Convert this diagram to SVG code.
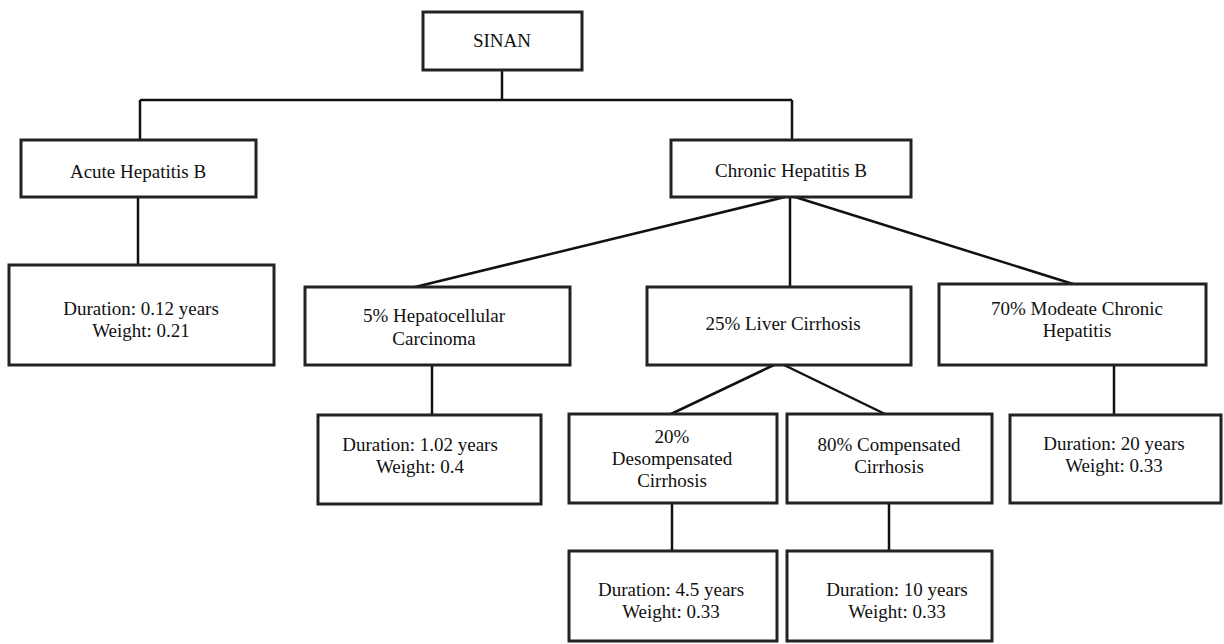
<svg xmlns="http://www.w3.org/2000/svg" width="1224" height="644" viewBox="0 0 1224 644">
<style>
.box{fill:#fff;stroke:#222;stroke-width:3}
.ln{stroke:#111;stroke-width:2.5;fill:none}
text{font-family:"Liberation Serif","DejaVu Serif",serif;font-size:19px;fill:#111;text-anchor:middle}
</style>
<rect width="1224" height="644" fill="#fff"/>
<g id="connectors">
<path class="ln" d="M502 70V100M140 100H792M140 100V140M792 100V140"/>
<path class="ln" d="M138 197V265"/>
<path class="ln" d="M785 197L415 287M790 197V287M795 197L1073 284"/>
<path class="ln" d="M432 365V415"/>
<path class="ln" d="M774 365L671 414M784 365L885 414"/>
<path class="ln" d="M1114 365V415"/>
<path class="ln" d="M672 503V551M889 503V551"/>
</g>
<g id="sinan"><rect class="box" x="423" y="12" width="159" height="58"/><text x="502" y="47">SINAN</text></g>
<g id="acute"><rect class="box" x="21" y="140" width="235" height="57"/><text x="138" y="178">Acute Hepatitis B</text></g>
<g id="chronic"><rect class="box" x="671" y="140" width="240" height="57"/><text x="791" y="177">Chronic Hepatitis B</text></g>
<g id="acute-dur"><rect class="box" x="9" y="265" width="265" height="100"/><text x="141" y="315">Duration: 0.12 years</text><text x="141" y="337">Weight: 0.21</text></g>
<g id="hcc"><rect class="box" x="305" y="287" width="265" height="78"/><text x="434" y="322">5% Hepatocellular</text><text x="434" y="345">Carcinoma</text></g>
<g id="lc"><rect class="box" x="647" y="287" width="264" height="78"/><text x="783" y="330">25% Liver Cirrhosis</text></g>
<g id="mch"><rect class="box" x="939" y="284" width="267" height="81"/><text x="1077" y="315">70% Modeate Chronic</text><text x="1077" y="337">Hepatitis</text></g>
<g id="hcc-dur"><rect class="box" x="318" y="415" width="223" height="89"/><text x="420" y="451">Duration: 1.02 years</text><text x="420" y="473">Weight: 0.4</text></g>
<g id="decomp"><rect class="box" x="569" y="414" width="208" height="89"/><text x="672" y="443">20%</text><text x="672" y="465">Desompensated</text><text x="672" y="487">Cirrhosis</text></g>
<g id="comp"><rect class="box" x="787" y="414" width="205" height="89"/><text x="889" y="451">80% Compensated</text><text x="889" y="473">Cirrhosis</text></g>
<g id="mch-dur"><rect class="box" x="1010" y="415" width="211" height="88"/><text x="1114" y="450">Duration: 20 years</text><text x="1114" y="472">Weight: 0.33</text></g>
<g id="decomp-dur"><rect class="box" x="569" y="551" width="208" height="90"/><text x="671" y="596">Duration: 4.5 years</text><text x="671" y="618">Weight: 0.33</text></g>
<g id="comp-dur"><rect class="box" x="787" y="551" width="205" height="90"/><text x="897" y="596">Duration: 10 years</text><text x="897" y="618">Weight: 0.33</text></g>
</svg>
